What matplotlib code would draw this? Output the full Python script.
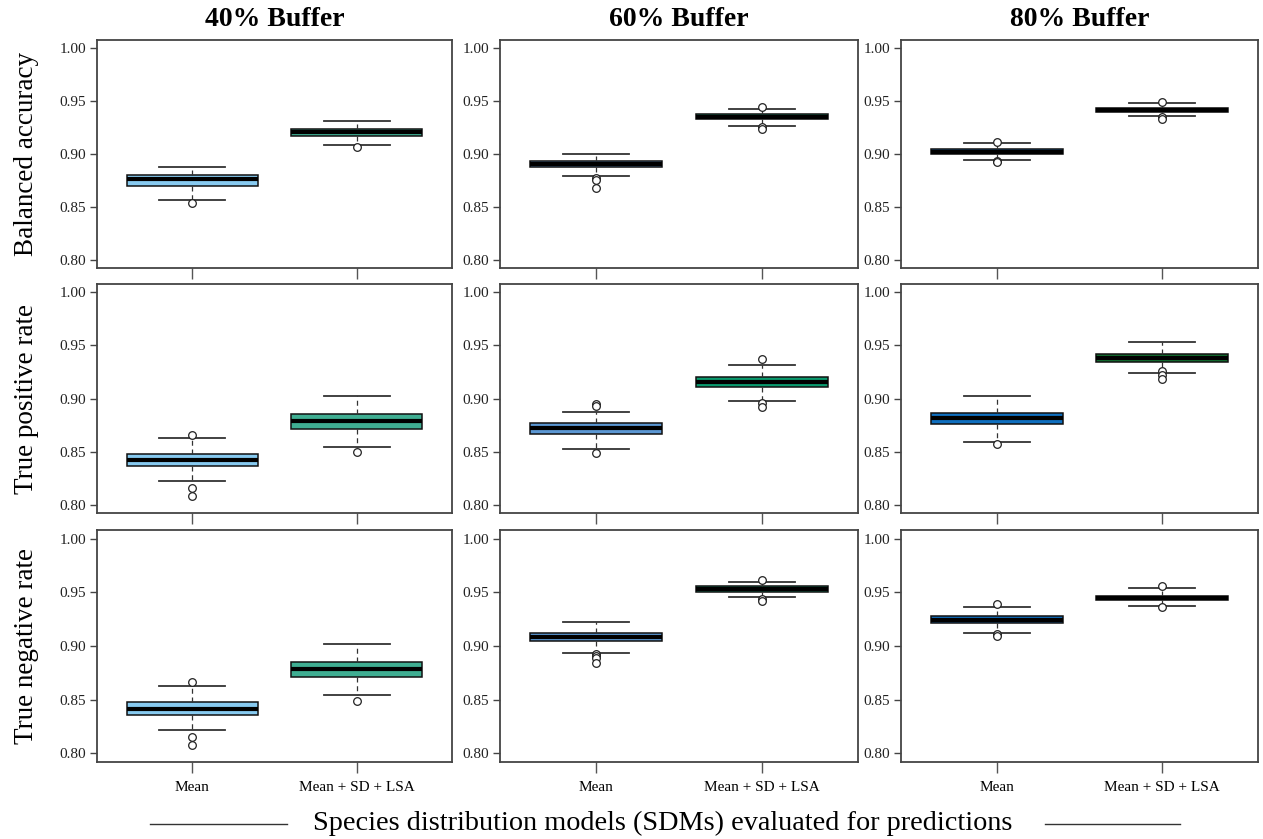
import matplotlib
matplotlib.use("Agg")
import matplotlib.pyplot as plt
from matplotlib.lines import Line2D

plt.rcParams['font.family'] = ['Liberation Serif', 'DejaVu Serif']

metrics = ["Balanced accuracy", "True positive rate", "True negative rate"]
buffers = ["40% Buffer", "60% Buffer", "80% Buffer"]
models = ["Mean", "Mean + SD + LSA"]

# box statistics, indexed [metric][buffer][model]
q1 = [
    [[0.8697, 0.9172], [0.8875, 0.9332], [0.8996, 0.9397]],
    [[0.8360, 0.8716], [0.8666, 0.9107], [0.8756, 0.9341]],
    [[0.8359, 0.8715], [0.9044, 0.9506], [0.9213, 0.9431]],
]
med = [
    [[0.8766, 0.9213], [0.8903, 0.9353], [0.9020, 0.9417]],
    [[0.8416, 0.8787], [0.8719, 0.9154], [0.8813, 0.9381]],
    [[0.8415, 0.8787], [0.9084, 0.9530], [0.9238, 0.9450]],
]
q3 = [
    [[0.8800, 0.9241], [0.8938, 0.9375], [0.9043, 0.9438]],
    [[0.8478, 0.8853], [0.8766, 0.9200], [0.8866, 0.9419]],
    [[0.8475, 0.8853], [0.9119, 0.9556], [0.9275, 0.9469]],
]
whislo = [
    [[0.8566, 0.9087], [0.8788, 0.9269], [0.8944, 0.9356]],
    [[0.8219, 0.8541], [0.8519, 0.8975], [0.8591, 0.9241]],
    [[0.8218, 0.8541], [0.8934, 0.9456], [0.9122, 0.9372]],
]
whishi = [
    [[0.8880, 0.9312], [0.9003, 0.9425], [0.9100, 0.9480]],
    [[0.8628, 0.9022], [0.8875, 0.9319], [0.9022, 0.9531]],
    [[0.8631, 0.9022], [0.9228, 0.9600], [0.9360, 0.9537]],
]
fliers = [
    [[[0.8540], [0.9063]],
     [[0.8775, 0.8754, 0.8681], [0.9444, 0.9260, 0.9240]],
     [[0.9118, 0.8937, 0.8921], [0.9493, 0.9350, 0.9334]]],
    [[[0.8660, 0.8154, 0.8085], [0.8491]],
     [[0.8944, 0.8929, 0.8488], [0.9369, 0.8960, 0.8920]],
     [[0.8575], [0.9257, 0.9225, 0.9185]]],
    [[[0.8663, 0.8153, 0.8081], [0.8490]],
     [[0.8922, 0.8906, 0.8890, 0.8843], [0.9619, 0.9440, 0.9418]],
     [[0.9394, 0.9116, 0.9091], [0.9559, 0.9363]]],
]
box_colors = [["#87CAF0", "#3FAE92"], ["#5B97D3", "#0A9A6E"], ["#0F6FBF", "#12702F"]]
yticks = [0.80, 0.85, 0.90, 0.95, 1.00]

W, H = 1263, 839
fig = plt.figure(figsize=(W / 100, H / 100), dpi=100)

col_x = [(97, 452), (500, 858), (901, 1258)]
row_y = [(40, 268), (284, 513), (530, 762)]
spine_col = "#444444"

for r in range(3):
    for c in range(3):
        x0, x1 = col_x[c]
        y0, y1 = row_y[r]
        ax = fig.add_axes([x0 / W, 1 - y1 / H, (x1 - x0) / W, (y1 - y0) / H])
        stats = []
        for m in range(2):
            stats.append(dict(med=med[r][c][m], q1=q1[r][c][m], q3=q3[r][c][m],
                              whislo=whislo[r][c][m], whishi=whishi[r][c][m],
                              fliers=fliers[r][c][m]))
        bp = ax.bxp(stats, positions=[1, 2], widths=0.8, patch_artist=True,
                    capwidths=0.4, manage_ticks=False,
                    boxprops=dict(edgecolor="#111111", linewidth=1.1),
                    medianprops=dict(color="black", linewidth=3.0, solid_capstyle="butt"),
                    whiskerprops=dict(color="#333333", linewidth=0.9, linestyle=(0, (4, 3))),
                    capprops=dict(color="#333333", linewidth=1.3),
                    flierprops=dict(marker="o", markerfacecolor="white",
                                    markeredgecolor="#222222", markersize=5.5,
                                    markeredgewidth=0.9))
        for patch, col in zip(bp["boxes"], box_colors[c]):
            patch.set_facecolor(col)

        ax.set_xlim(0.42, 2.58)
        ax.set_ylim(0.792, 1.008)
        ax.set_yticks(yticks)
        ax.set_yticklabels([f"{v:.2f}" for v in yticks], fontsize=11, color="#222222")
        ax.set_xticks([1, 2])
        if r == 2:
            ax.set_xticklabels(models, fontsize=11)
        else:
            ax.set_xticklabels([])
        ax.tick_params(axis="y", length=5, width=1.0, color=spine_col, pad=3)
        ax.tick_params(axis="x", length=8, width=1.0, color="#555555", pad=6)
        for s in ax.spines.values():
            s.set_color(spine_col)
            s.set_linewidth(1.3)

        if r == 0:
            fig.text((x0 + x1) / 2 / W, 1 - 19 / H, buffers[c], ha="center", va="center",
                     fontsize=20, fontweight="bold")
        if c == 0:
            fig.text(27 / W, 1 - (y0 + y1) / 2 / H, metrics[r], rotation=90,
                     ha="center", va="center", fontsize=19.5)

fig.text(663 / W, 1 - 823 / H, "Species distribution models (SDMs) evaluated for predictions",
         ha="center", va="center", fontsize=20.3)
fig.add_artist(Line2D([150 / W, 287 / W], [1 - 824 / H] * 2, color="#333333", linewidth=1.0))
fig.add_artist(Line2D([1045 / W, 1180 / W], [1 - 824 / H] * 2, color="#333333", linewidth=1.0))

fig.savefig("out.png", dpi=100)
